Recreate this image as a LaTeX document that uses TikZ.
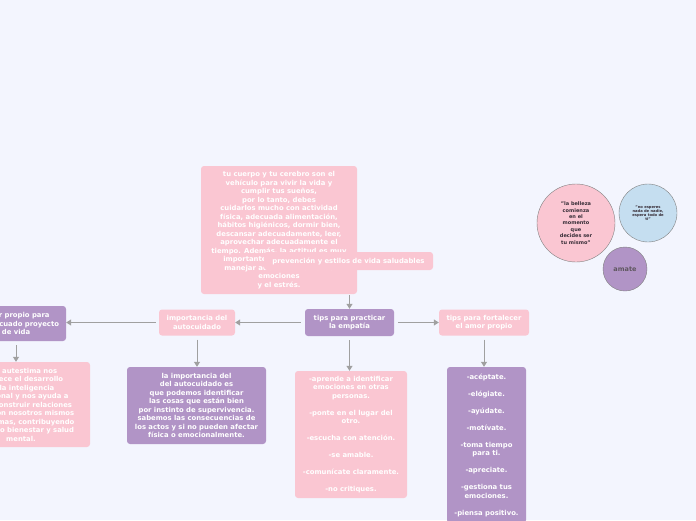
\documentclass[tikz,border=0pt]{standalone}
\usepackage{fontspec}
\setmainfont{DejaVu Sans}
\usetikzlibrary{arrows.meta}
\definecolor{fondo}{RGB}{243,245,254}
\definecolor{rosa}{RGB}{250,198,210}
\definecolor{lila}{RGB}{177,148,198}
\definecolor{celeste}{RGB}{197,222,240}
\definecolor{gris}{RGB}{160,160,160}
\definecolor{tinta}{RGB}{55,45,55}
\begin{document}
\begin{tikzpicture}[x=1pt,y=-1pt,font=\fontsize{6.85}{8.5}\selectfont\bfseries,
 caja/.style={rounded corners=3pt,text=white,align=center,inner sep=0pt},
 rosabox/.style={caja,fill=rosa},
 lilabox/.style={caja,fill=lila},
 flecha/.style={draw=gris,line width=1pt,-{Triangle[length=5pt,width=6pt]}},
 burbuja/.style={circle,draw=gray,line width=.4pt,text=tinta,align=center,inner sep=0pt}]
\fill[fondo] (0,0) rectangle (696,520);
\useasboundingbox (0,0) rectangle (696,520);
\clip (0,0) rectangle (696,520);
% top text and its label
\node[rosabox,minimum width=156pt,minimum height=128pt] (cuerpo) at (279,230) {tu cuerpo y tu cerebro son el\\ vehículo para vivir la vida y\\ cumplir tus sueños,\\ por lo tanto, debes\\ cuidarlos mucho con actividad\\ física, adecuada alimentación,\\ hábitos higiénicos, dormir bien,\\ descansar adecuadamente, leer,\\ aprovechar adecuadamente el\\ tiempo. Además, la actitud es muy\\ importante: pensar positivo,\\ manejar adecuadamente las\\ emociones\\ y el estrés.};
\node[rosabox,minimum width=169pt,minimum height=18pt] (prevencion) at (348.5,261) {prevención y estilos de vida saludables};
% middle row
\node[lilabox,minimum width=89pt,minimum height=27pt] (empatia) at (349.5,322.5) {tips para practicar\\ la empatía};
\node[rosabox,minimum width=76pt,minimum height=26pt] (autocuidado) at (197,322.5) {importancia del\\ autocuidado};
\node[lilabox,minimum width=100pt,minimum height=35pt] (amorvida) at (16,323.5) {amor propio para\\ un adecuado proyecto\\ de vida};
\node[rosabox,minimum width=90pt,minimum height=26pt] (fortalecer) at (484,322.5) {tips para fortalecer\\ el amor propio};
% lower boxes
\node[rosabox,minimum width=138pt,minimum height=85pt] (autoestima) at (21,404.5) {alto autestima nos\\ favorece el desarrollo\\ de la inteligencia\\ emocional y nos ayuda a\\ poder construir relaciones\\ sanas con nosotros mismos\\ y los demas, contribuyendo\\ a nuestro bienestar y salud\\ mental.};
\node[lilabox,minimum width=139pt,minimum height=77pt] (importancia) at (196.5,405.5) {la importancia del\\ del autocuidado es\\ que podemos identificar\\ las cosas que están bien\\ por instinto de supervivencia.\\ sabemos las consecuencias de\\ los actos y si no pueden afectar\\ física o emocionalmente.};
\node[rosabox,minimum width=112pt,minimum height=127pt] (empatialist) at (351,434.5) {-aprende a identificar\\ emociones en otras\\ personas.\\[8.5pt] -ponte en el lugar del\\ otro.\\[8.5pt] -escucha con atención.\\[8.5pt] -se amable.\\[8.5pt] -comunícate claramente.\\[8.5pt] -no critiques.};
\node[lilabox,minimum width=79pt,minimum height=156pt] (amorlist) at (486.5,445) {-acéptate.\\[8.5pt] -elógiate.\\[8.5pt] -ayúdate.\\[8.5pt] -motívate.\\[8.5pt] -toma tiempo\\ para ti.\\[8.5pt] -apreciate.\\[8.5pt] -gestiona tus\\ emociones.\\[8.5pt] -piensa positivo.};
% bubbles
\node[burbuja,fill=rosa,minimum size=78pt,font=\fontsize{5}{6.4}\selectfont\bfseries] (belleza) at (576,223) {"la belleza\\ comienza\\ en el\\ momento\\ que\\ decides ser\\ tu mismo"};
\node[burbuja,fill=celeste,minimum size=58pt,font=\fontsize{3.7}{4.2}\selectfont\bfseries] (esperes) at (648,213) {"no esperes\\ nada de nadie,\\ espera todo de\\ ti"};
\node[burbuja,fill=lila,minimum size=44pt,text=tinta!80,font=\fontsize{6.5}{8}\selectfont\bfseries] (amate) at (625,269) {amate};
% connectors
\draw[flecha,shorten <=1pt] (cuerpo.south -| empatia.north) -- (empatia.north);
\draw[flecha,shorten <=4pt] (empatia.west) -- (autocuidado.east);
\draw[flecha,shorten <=3pt] (autocuidado.west) -- (autocuidado.west -| amorvida.east);
\draw[flecha,shorten <=4pt] (empatia.east) -- (fortalecer.west);
\draw[flecha,shorten <=4pt] (empatia.south) -- (empatia.south |- empatialist.north);
\draw[flecha,shorten <=4pt] (autocuidado.south) -- (autocuidado.south |- importancia.north);
\draw[flecha,shorten <=4pt] (fortalecer.south) -- (fortalecer.south |- amorlist.north);
\draw[flecha,shorten <=4pt] (amorvida.south) -- (amorvida.south |- autoestima.north);
\end{tikzpicture}
\end{document}
